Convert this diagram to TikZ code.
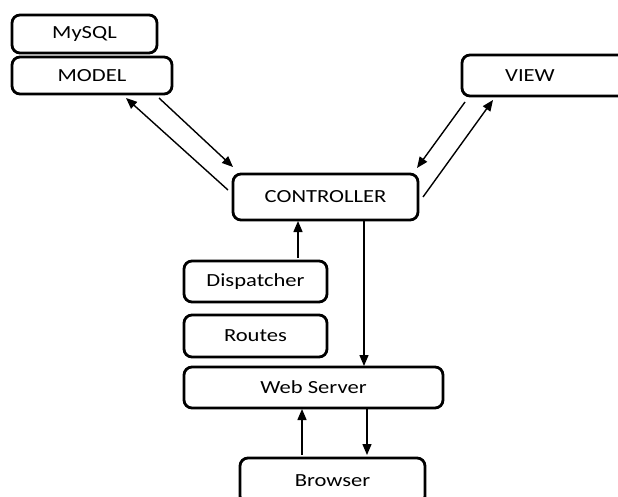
\documentclass[tikz,border=0pt]{standalone}
\usepackage{fontspec}
\setmainfont{Carlito}[FakeStretch=1.22]
\usetikzlibrary{arrows.meta}
\begin{document}
\begin{tikzpicture}[x=1pt,y=-1pt,
  label/.style={inner sep=0pt, font=\fontsize{18.5}{21}\selectfont},
  box/.style={label, draw, line width=2.8pt, rounded corners=8pt},
  link/.style={line width=1.4pt, -{Triangle[length=11pt,width=9pt]}}]
\useasboundingbox (0,0) rectangle (618,497);
\clip (0,0) rectangle (618,497);

% boxes
\node[box, minimum width=145pt, minimum height=38pt] (mysql) at (84.5,34) {MySQL};
\node[box, minimum width=160pt, minimum height=37pt] (model) at (92,75.5) {MODEL};
\draw[line width=2.8pt, rounded corners=8pt] (462,55) rectangle (680,96);
\node[label] (view) at (530,76) {VIEW};
\node[box, minimum width=185pt, minimum height=46pt] (ctrl) at (325.5,197) {CONTROLLER};
\node[box, minimum width=143pt, minimum height=41pt] (disp) at (255.5,281.5) {Dispatcher};
\node[box, minimum width=143pt, minimum height=42pt] (routes) at (255.5,336) {Routes};
\node[box, minimum width=259pt, minimum height=41pt] (web) at (313.5,387.5) {Web Server};
\node[box, minimum width=185pt, minimum height=46pt] (browser) at (332.5,481) {Browser};

% connector end points
\coordinate (cmA) at (228,190);  \coordinate (cmB) at (126,98);
\coordinate (mcA) at (159,98);   \coordinate (mcB) at (233,167);
\coordinate (vcA) at (465,102);  \coordinate (vcB) at (417,168);
\coordinate (cvA) at (423,197);  \coordinate (cvB) at (493,100);
\coordinate (dcA) at (298,258);  \coordinate (dcB) at (298,221);
\coordinate (cwA) at (364,221);  \coordinate (cwB) at (364,366);
\coordinate (bwA) at (302,455);  \coordinate (bwB) at (302,409);
\coordinate (wbA) at (367,409);  \coordinate (wbB) at (367,455);

% connectors
\draw[link] (cmA) -- (cmB);
\draw[link] (mcA) -- (mcB);
\draw[link] (vcA) -- (vcB);
\draw[link] (cvA) -- (cvB);
\draw[link] (dcA) -- (dcB);
\draw[link] (cwA) -- (cwB);
\draw[link] (bwA) -- (bwB);
\draw[link] (wbA) -- (wbB);
\end{tikzpicture}
\end{document}
